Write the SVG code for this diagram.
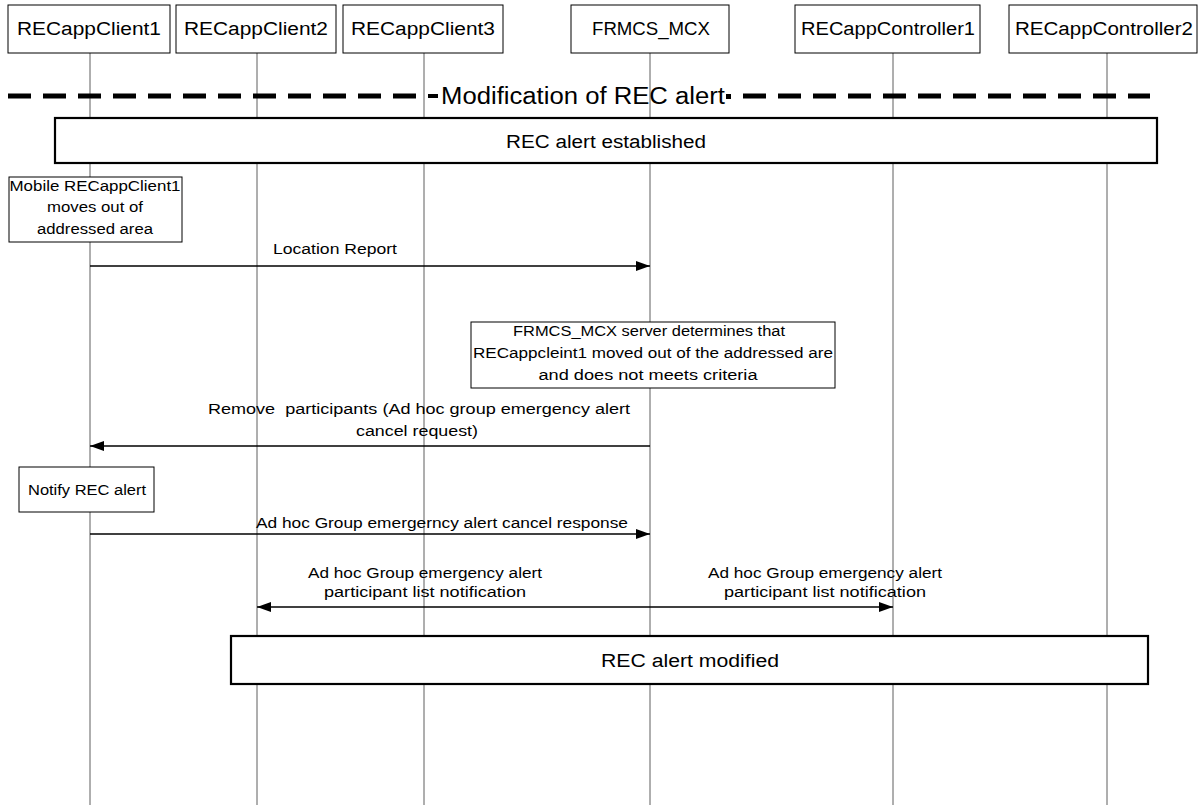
<svg xmlns="http://www.w3.org/2000/svg" width="1202" height="805" viewBox="0 0 1202 805">
<style>
text{font-family:"Liberation Sans",Arial,sans-serif;fill:#000;text-anchor:middle;white-space:pre}
.hdr{font-size:18px}
.lbl{font-size:14px}
.big{font-size:18px}
.title{font-size:23px}
.box{fill:#fff;stroke:#000;stroke-width:1}
.tbox{fill:#fff;stroke:#000;stroke-width:2.2}
.life{stroke:#5e5e5e;stroke-width:1;fill:none}
.msg{stroke:#000;stroke-width:1.5;fill:none}
.dash{stroke:#000;stroke-width:5;stroke-dasharray:23 12;fill:none}
</style>
<defs>
<marker id="ah" viewBox="0 0 14 10" refX="14" refY="5" markerWidth="14" markerHeight="10" markerUnits="userSpaceOnUse" orient="auto">
<path d="M0,0 L14,5 L0,10 Z" fill="#000"/>
</marker>
</defs>
<rect width="1202" height="805" fill="#fff"/>

<g id="lifelines">
<line class="life" x1="90" y1="53" x2="90" y2="805"/>
<line class="life" x1="257" y1="53" x2="257" y2="805"/>
<line class="life" x1="424" y1="53" x2="424" y2="805"/>
<line class="life" x1="650" y1="53" x2="650" y2="805"/>
<line class="life" x1="893" y1="53" x2="893" y2="805"/>
<line class="life" x1="1107" y1="53" x2="1107" y2="805"/>
</g>

<g id="RECappClient1">
<rect class="box" x="8" y="5" width="162" height="48"/>
<text class="hdr" x="89" y="35" textLength="144" lengthAdjust="spacingAndGlyphs">RECappClient1</text>
</g>
<g id="RECappClient2">
<rect class="box" x="176" y="5" width="160" height="48"/>
<text class="hdr" x="256" y="35" textLength="144" lengthAdjust="spacingAndGlyphs">RECappClient2</text>
</g>
<g id="RECappClient3">
<rect class="box" x="343" y="5" width="160" height="48"/>
<text class="hdr" x="423" y="35" textLength="144" lengthAdjust="spacingAndGlyphs">RECappClient3</text>
</g>
<g id="FRMCS_MCX">
<rect class="box" x="571" y="5" width="158" height="48"/>
<text class="hdr" x="651" y="35" textLength="118" lengthAdjust="spacingAndGlyphs">FRMCS_MCX</text>
</g>
<g id="RECappController1">
<rect class="box" x="795" y="5" width="185" height="48"/>
<text class="hdr" x="888" y="35" textLength="174" lengthAdjust="spacingAndGlyphs">RECappController1</text>
</g>
<g id="RECappController2">
<rect class="box" x="1009" y="5" width="188" height="48"/>
<text class="hdr" x="1104" y="35" textLength="178" lengthAdjust="spacingAndGlyphs">RECappController2</text>
</g>

<g id="section-title">
<line class="dash" x1="8" y1="96" x2="425" y2="96"/>
<line x1="428" y1="96" x2="438" y2="96" stroke="#000" stroke-width="4"/>
<text class="title" x="583" y="104" textLength="284" lengthAdjust="spacingAndGlyphs">Modification of REC alert</text>
<rect x="726" y="94" width="5" height="5" fill="#000"/>
<line class="dash" x1="743" y1="96" x2="1150" y2="96"/>
</g>

<g id="rec-alert-established">
<rect class="tbox" x="55" y="118" width="1102" height="45"/>
<text class="big" x="606" y="148" textLength="200" lengthAdjust="spacingAndGlyphs">REC alert established</text>
</g>

<g id="note-client1-moves">
<rect class="box" x="9" y="177" width="173" height="65"/>
<text class="lbl" x="95" y="191" textLength="171" lengthAdjust="spacingAndGlyphs">Mobile RECappClient1</text>
<text class="lbl" x="95" y="212" textLength="96" lengthAdjust="spacingAndGlyphs">moves out of</text>
<text class="lbl" x="95" y="234" textLength="116" lengthAdjust="spacingAndGlyphs">addressed area</text>
</g>

<g id="note-mcx-determines">
<rect class="box" x="471" y="322" width="364" height="66"/>
<text class="lbl" x="649" y="336" textLength="272" lengthAdjust="spacingAndGlyphs">FRMCS_MCX server determines that</text>
<text class="lbl" x="653" y="358" textLength="360" lengthAdjust="spacingAndGlyphs">RECappcleint1 moved out of the addressed are</text>
<text class="lbl" x="648" y="380" textLength="219" lengthAdjust="spacingAndGlyphs">and does not meets criteria</text>
</g>

<g id="note-notify">
<rect class="box" x="19" y="467" width="135" height="45"/>
<text class="lbl" x="87" y="495" textLength="118" lengthAdjust="spacingAndGlyphs">Notify REC alert</text>
</g>

<g id="rec-alert-modified">
<rect class="tbox" x="231" y="636" width="917" height="48"/>
<text class="big" x="690" y="667" textLength="178" lengthAdjust="spacingAndGlyphs">REC alert modified</text>
</g>

<g id="connectors">
<line class="msg" x1="90" y1="266" x2="650" y2="266" marker-end="url(#ah)"/>
<text class="lbl" x="335" y="254" textLength="124" lengthAdjust="spacingAndGlyphs">Location Report</text>

<line class="msg" x1="650" y1="446" x2="90" y2="446" marker-end="url(#ah)"/>
<text class="lbl" x="419" y="414" textLength="422" lengthAdjust="spacingAndGlyphs" xml:space="preserve">Remove  participants (Ad hoc group emergency alert</text>
<text class="lbl" x="417" y="436" textLength="122" lengthAdjust="spacingAndGlyphs">cancel request)</text>

<line class="msg" x1="90" y1="534" x2="650" y2="534" marker-end="url(#ah)"/>
<text class="lbl" x="442" y="528" textLength="372" lengthAdjust="spacingAndGlyphs">Ad hoc Group emergerncy alert cancel response</text>

<line class="msg" x1="650" y1="607" x2="257" y2="607" marker-end="url(#ah)"/>
<text class="lbl" x="425" y="578" textLength="234" lengthAdjust="spacingAndGlyphs">Ad hoc Group emergency alert</text>
<text class="lbl" x="425" y="597" textLength="202" lengthAdjust="spacingAndGlyphs">participant list notification</text>

<line class="msg" x1="650" y1="607" x2="893" y2="607" marker-end="url(#ah)"/>
<text class="lbl" x="825" y="578" textLength="234" lengthAdjust="spacingAndGlyphs">Ad hoc Group emergency alert</text>
<text class="lbl" x="825" y="597" textLength="202" lengthAdjust="spacingAndGlyphs">participant list notification</text>
</g>
</svg>
